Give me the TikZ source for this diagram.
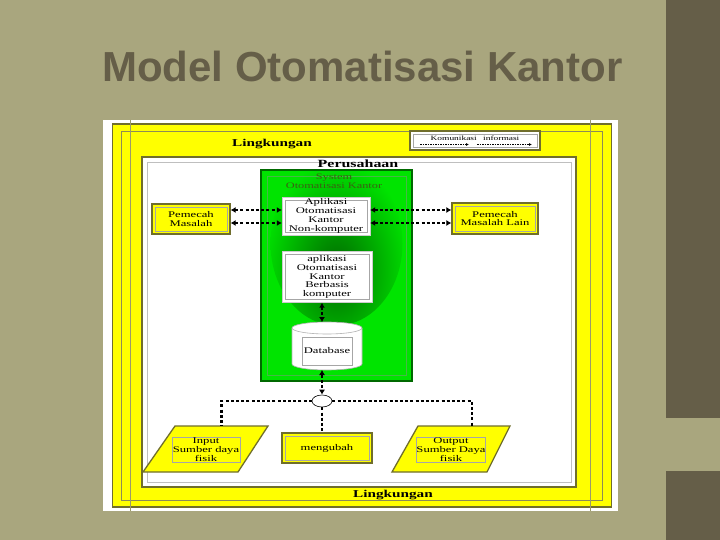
\documentclass[tikz,border=0pt]{standalone}
\usepackage{fontspec}
\setmainfont{Liberation Serif}
\newfontfamily\titlefont{Liberation Sans}
\newfontfamily\diafont[FakeStretch=1.45]{Liberation Serif}
\usetikzlibrary{arrows.meta,shapes.geometric,positioning}
\definecolor{slidebg}{RGB}{169,166,126}
\definecolor{slidedark}{RGB}{101,94,72}
\definecolor{yel}{RGB}{255,255,0}
\definecolor{edge}{RGB}{112,110,44}
\definecolor{grn}{RGB}{0,228,0}
\definecolor{grndark}{RGB}{0,105,0}
\definecolor{systxt}{RGB}{60,95,20}
\tikzset{
  inrect/.style={path picture={\draw[gray!70,line width=0.7pt]
      ([shift={(3pt,-3pt)}]path picture bounding box.north west) rectangle
      ([shift={(-3pt,3pt)}]path picture bounding box.south east);}},
  boxfont/.style={font=\diafont\fontsize{8.7}{8.9}\selectfont},
  ybox/.style={draw=edge,line width=1.3pt,fill=yel,align=center,inner sep=0pt,inrect,boxfont},
  wbox/.style={draw=gray!40,line width=0.4pt,fill=white,align=center,inner sep=0pt,inrect,boxfont},
  para/.style={draw=edge,line width=1.3pt,fill=yel,line join=miter},
  label/.style={draw=gray!70,line width=0.7pt,align=center,inner sep=0pt,boxfont},
  heading/.style={font=\diafont\bfseries\fontsize{10.5}{12}\selectfont},
  comm/.style={line width=2.4pt,dash pattern=on 3pt off 2.2pt,
      {Latex[length=5pt,width=6pt]}-{Latex[length=5pt,width=6pt]}},
  link/.style={line width=2.4pt,dash pattern=on 3pt off 2.2pt},
  legarrow/.style={line width=0.6pt,dash pattern=on 1.5pt off 1pt,-{Latex[length=3pt,width=3pt]}}
}
\begin{document}
\begin{tikzpicture}[x=1pt,y=-1pt]
\useasboundingbox (0,0) rectangle (720,540);
% slide
\fill[slidebg] (0,0) rectangle (720,540);
\fill[slidedark] (666,0) rectangle (720,418);
\fill[slidedark] (666,471) rectangle (720,540);
\node[anchor=base west,text=slidedark,inner sep=0pt,
  font=\titlefont\bfseries\fontsize{42}{46}\selectfont] (title) at (102,82) {Model Otomatisasi Kantor};
% environment frame
\fill[white] (103,120) rectangle (618,511);
\node[draw=edge,line width=1.5pt,fill=yel,minimum width=499,minimum height=383] (env) at (362,315.5) {};
\draw[edge!80,line width=0.6pt] (121,131) rectangle (602,500);
\draw[edge!70,line width=0.6pt] (130,120) -- (130,511);
\draw[edge!70,line width=0.6pt] (590,120) -- (590,511);
\node[heading] (lingA) at (272,144) {Lingkungan};
\node[heading] (lingB) at (393,495) {Lingkungan};
% legend
\node[draw=edge,line width=1.2pt,fill=white,inrect,minimum width=130,minimum height=19] (kom) at (475,140.5) {};
\node[font=\diafont\fontsize{6.5}{7}\selectfont] (komt) at ([yshift=2.5pt]kom.center) {Komunikasi\quad informasi};
\draw[legarrow] ([xshift=-55pt,yshift=-4pt]kom.center) -- ([xshift=-6pt,yshift=-4pt]kom.center);
\draw[legarrow] ([xshift=2pt,yshift=-4pt]kom.center) -- ([xshift=57pt,yshift=-4pt]kom.center);
% company
\node[draw=edge,line width=1.5pt,fill=white,minimum width=434,minimum height=330,
  path picture={\draw[gray!50,line width=0.8pt]
      ([shift={(5pt,-5pt)}]path picture bounding box.north west) rectangle
      ([shift={(-5pt,5pt)}]path picture bounding box.south east);}] (per) at (359,322) {};
\node[heading,font=\diafont\bfseries\fontsize{11}{12}\selectfont] (pert) at (358,163.5) {Perusahaan};
% office automation system
\node[draw=grndark,line width=1.5pt,fill=grn,minimum width=151,minimum height=211,
  path picture={
    \shade[inner color=grndark,outer color=grn] ([shift={(0pt,32pt)}]path picture bounding box.center)
        ellipse [x radius=66pt,y radius=82pt];
    \draw[green!45!gray,line width=0.6pt]
      ([shift={(6pt,-6pt)}]path picture bounding box.north west) rectangle
      ([shift={(-6pt,6pt)}]path picture bounding box.south east);}] (sys) at (336.5,275.5) {};
\node[align=center,text=systxt,font=\diafont\fontsize{8.5}{8.5}\selectfont] (syst) at (334,181) {System\\Otomatisasi Kantor};
\node[wbox,minimum width=88,minimum height=38] (aplA) at (326,216) {Aplikasi\\Otomatisasi\\Kantor\\Non-komputer};
\node[wbox,minimum width=90,minimum height=51] (aplB) at (327,277) {aplikasi\\Otomatisasi\\Kantor\\Berbasis\\komputer};
% database drum
\coordinate (db) at (327,346);
\draw[gray!60,line width=0.6pt,fill=white] (292,328) -- (292,364) arc[start angle=180,end angle=360,x radius=35,y radius=-6]
  -- (362,328) arc[start angle=0,end angle=180,x radius=35,y radius=-6] -- cycle;
\draw[gray!60,line width=0.6pt] (292,328) arc[start angle=180,end angle=360,x radius=35,y radius=-6];
\coordinate (dbTop) at (327,322);
\coordinate (dbBot) at (327,370);
\node[label,minimum width=50,minimum height=28] (dbt) at (327,351) {Database};
% problem solvers
\node[ybox,minimum width=78,minimum height=30] (pmL) at (191,219) {Pemecah\\Masalah};
\node[ybox,minimum width=86,minimum height=31] (pmR) at (495,218.5) {Pemecah\\Masalah Lain};
% resources
\node[ellipse,draw,line width=0.6pt,fill=white,minimum width=20,minimum height=12,inner sep=1pt] (circ) at (322,401) {};
\draw[para] (175,426) -- (268,426) -- (238,472) -- (143,472) -- cycle;
\coordinate (inTop) at (221.5,426);
\node[label,minimum width=68,minimum height=25] (inPt) at (206,449.5) {Input\\Sumber daya\\fisik};
\node[ybox,minimum width=90,minimum height=30] (meng) at (327,448) {mengubah};
\draw[para] (418,426) -- (510,426) -- (487,472) -- (392,472) -- cycle;
\coordinate (outTop) at (472,426);
\node[label,minimum width=68,minimum height=25] (outPt) at (451,449.5) {Output\\Sumber Daya\\fisik};
% connectors
\draw[comm] ([yshift=9pt]pmL.east) -- ([yshift=9pt]pmL.east -| aplA.west);
\draw[comm] ([yshift=-4pt]pmL.east) -- ([yshift=-4pt]pmL.east -| aplA.west);
\draw[comm] ([yshift=8.5pt]pmR.west -| aplA.east) -- ([yshift=8.5pt]pmR.west);
\draw[comm] ([yshift=-4.5pt]pmR.west -| aplA.east) -- ([yshift=-4.5pt]pmR.west);
\draw[comm] (aplB.south -| circ) -- (dbTop -| circ);
\draw[comm] (dbBot -| circ) -- (circ.north);
\draw[link] (circ.west) -| (inTop);
\draw[link] (circ.east) -| (outTop);
\draw[link] (circ.south) -- (meng.north -| circ);
\end{tikzpicture}
\end{document}
